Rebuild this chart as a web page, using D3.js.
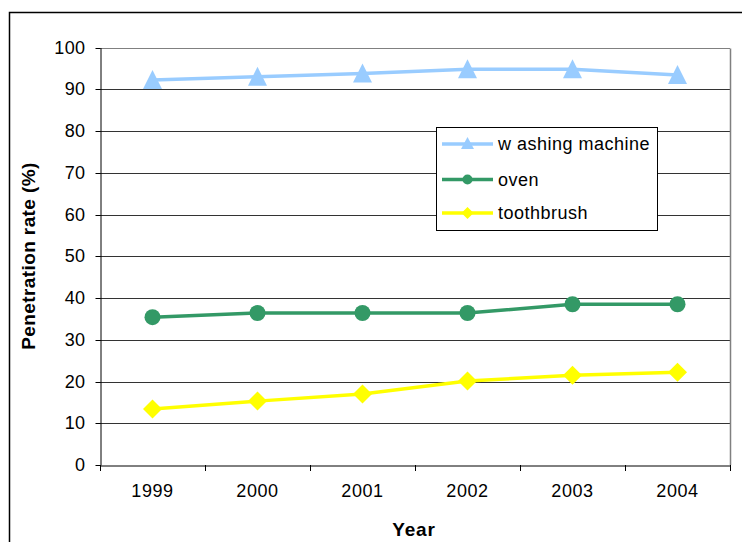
<!DOCTYPE html>
<html><head><meta charset="utf-8">
<script src="https://cdn.jsdelivr.net/npm/d3@7"></script>
<style>body{margin:0;background:#fff}svg{display:block;font-family:"Liberation Sans",Arial,sans-serif}</style>
</head><body><svg id="c" width="742" height="542"></svg>
<script>
const years = ["1999","2000","2001","2002","2003","2004"];
const washingMachine = [92.2, 93.0, 93.8, 94.8, 94.8, 93.4];
const oven = [35.4, 36.4, 36.4, 36.4, 38.5, 38.5];
const toothbrush = [13.4, 15.3, 17.0, 20.1, 21.5, 22.2];
const yTicks = [0,10,20,30,40,50,60,70,80,90,100];
const seriesNames = ["w ashing machine","oven","toothbrush"];
const seriesColors = ["#99CCFF","#339966","#FFFF00"];
const seriesShapes = ["triangle","circle","diamond"];

const series = [washingMachine, oven, toothbrush].map((v,i)=>({name:seriesNames[i],values:v,color:seriesColors[i],shape:seriesShapes[i]}));

const svg = d3.select("#c");
const L=100, R=730, T=47.5, B=465;
const x = d3.scaleBand().domain(years).range([L,R]);
const y = d3.scaleLinear().domain([0,100]).range([B,T]);

// outer border
svg.append("rect").attr("x",9.5).attr("y",12.5).attr("width",760).attr("height",560).attr("fill","none").attr("stroke","#000").attr("stroke-width",1.5);

// gridlines
svg.append("g").selectAll("line").data(yTicks.filter(d=>d>0)).join("line")
  .attr("x1",L).attr("x2",R).attr("y1",d=>Math.round(y(d))+0.5).attr("y2",d=>Math.round(y(d))+0.5)
  .attr("stroke",d=>d===100?"#808080":"#333").attr("stroke-width",1);
// right border
svg.append("line").attr("x1",R+0.5).attr("x2",R+0.5).attr("y1",Math.round(T)+0.5).attr("y2",B).attr("stroke","#808080").attr("stroke-width",1.5);

// y axis
const ya = svg.append("g").attr("transform",`translate(${L+0.5},0)`)
  .call(d3.axisLeft(y).tickValues(yTicks).tickSize(5).tickPadding(10).tickSizeOuter(0));
ya.selectAll("text").attr("font-size","18px").attr("letter-spacing","0.4px").attr("fill","#000");
ya.select(".domain").attr("stroke","#000");
ya.selectAll(".tick line").attr("stroke","#000");
ya.selectAll(".tick").attr("transform",d=>`translate(0,${Math.round(y(d))+0.5})`);

// x axis
const xa = svg.append("g").attr("transform",`translate(0,${B+0.5})`)
  .call(d3.axisBottom(x).tickSize(0).tickPadding(19).tickSizeOuter(0));
xa.selectAll("text").attr("font-size","18px").attr("letter-spacing","0.6px").attr("fill","#000").attr("y",31).attr("dy",0);
xa.select(".domain").attr("stroke","#000");
svg.append("g").selectAll("line").data(d3.range(years.length+1)).join("line")
  .attr("x1",i=>Math.round(L+i*x.step())+0.5).attr("x2",i=>Math.round(L+i*x.step())+0.5)
  .attr("y1",B).attr("y2",B+6).attr("stroke","#000");

// axis titles
svg.append("text").attr("transform","translate(35,256) rotate(-90)").attr("text-anchor","middle")
  .attr("font-size","19px").attr("letter-spacing","0.4px").attr("font-weight","bold").text("Penetration rate (%)");
svg.append("text").attr("x",414).attr("y",536).attr("text-anchor","middle")
  .attr("font-size","19px").attr("letter-spacing","0.8px").attr("font-weight","bold").text("Year");

function marker(g, shape, color, cx, cy, s){
  if(shape==="triangle"){
    g.append("path").attr("d",`M${cx},${cy-10}L${cx+9.5},${cy+9}L${cx-9.5},${cy+9}Z`).attr("fill",color);
  } else if(shape==="circle"){
    g.append("circle").attr("cx",cx).attr("cy",cy).attr("r",s||8).attr("fill",color);
  } else {
    const r=s||9.5;
    g.append("path").attr("d",`M${cx},${cy-r}L${cx+r},${cy}L${cx},${cy+r}L${cx-r},${cy}Z`).attr("fill",color);
  }
}

const line = d3.line().x((d,i)=>x(years[i])+x.bandwidth()/2).y(d=>y(d));
series.forEach(s=>{
  const g = svg.append("g");
  g.append("path").attr("d",line(s.values)).attr("fill","none").attr("stroke",s.color).attr("stroke-width",3.5);
  s.values.forEach((v,i)=>marker(g,s.shape,s.color,x(years[i])+x.bandwidth()/2,y(v)));
});

// legend
const lg = svg.append("g");
lg.append("rect").attr("x",436.5).attr("y",127.5).attr("width",221).attr("height",103).attr("fill","#fff").attr("stroke","#000");
const rows=[144,179.5,213];
series.forEach((s,i)=>{
  lg.append("line").attr("x1",442).attr("x2",493).attr("y1",rows[i]).attr("y2",rows[i]).attr("stroke",s.color).attr("stroke-width",3.5);
  if(s.shape==="triangle"){
    lg.append("path").attr("d",`M467.5,${rows[i]-7}L474,${rows[i]+5}L461,${rows[i]+5}Z`).attr("fill",s.color);
  } else marker(lg,s.shape,s.color,467.5,rows[i],s.shape==="circle"?5:6);
  lg.append("text").attr("x",498).attr("y",rows[i]+6).attr("font-size","18px").attr("letter-spacing","0.5px").text(s.name);
});
</script></body></html>
